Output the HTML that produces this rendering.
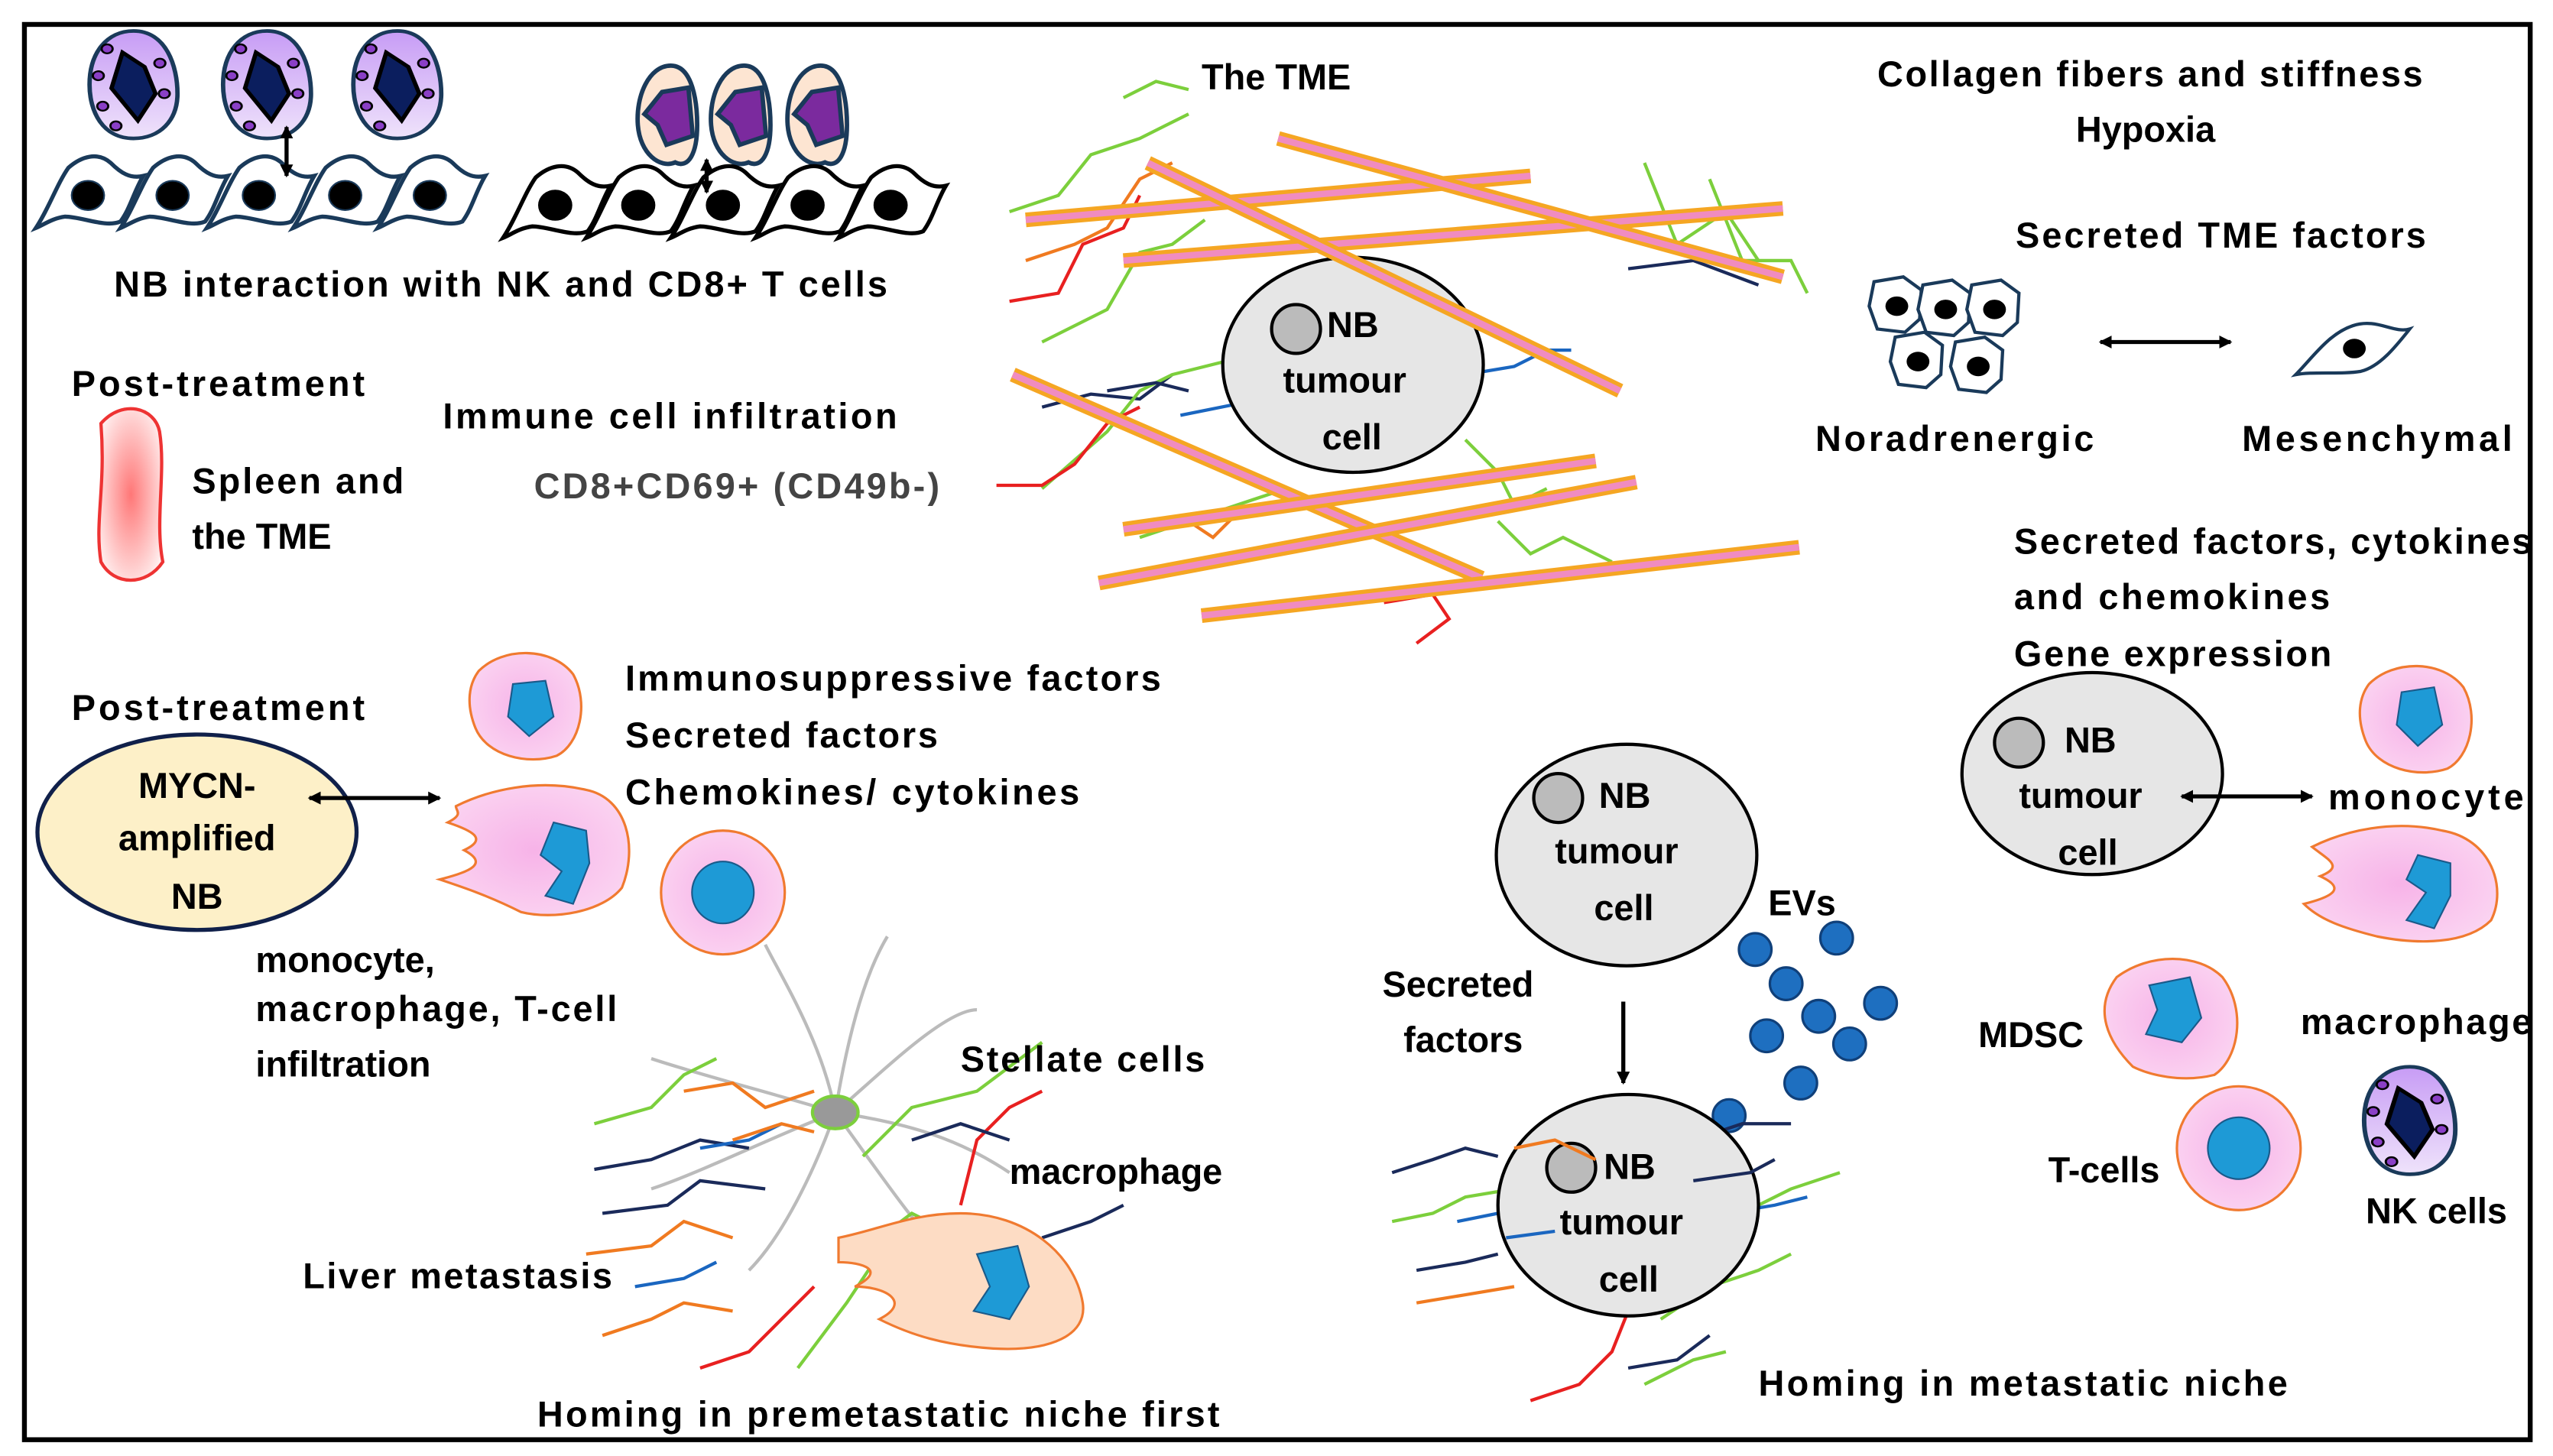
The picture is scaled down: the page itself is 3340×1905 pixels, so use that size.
<!DOCTYPE html>
<html><head><meta charset="utf-8"><style>
html,body{margin:0;padding:0;background:#fff;}
svg{display:block;}
text{font-family:"Liberation Sans",sans-serif;font-weight:bold;font-size:22px;fill:#000;}
.g{fill:#444;}
.fib1{stroke:#f5a623;stroke-width:9;stroke-linecap:butt;}
.fib2{stroke:#f08cc0;stroke-width:4;}
.sq{fill:none;stroke-width:2;}
</style></head><body>
<svg width="3340" height="1905" viewBox="0 0 1568 894" preserveAspectRatio="none" xmlns="http://www.w3.org/2000/svg">
<defs>
<linearGradient id="pg" x1="0" y1="0" x2="0" y2="1"><stop offset="0" stop-color="#c79cf5"/><stop offset="1" stop-color="#efe3fb"/></linearGradient>
<radialGradient id="sp" cx="0.5" cy="0.5" r="0.6"><stop offset="0" stop-color="#f77"/><stop offset="1" stop-color="#fff0f0"/></radialGradient>
<radialGradient id="pk" cx="0.5" cy="0.5" r="0.6"><stop offset="0" stop-color="#f7b3e8"/><stop offset="1" stop-color="#fbd6f2"/></radialGradient>
<marker id="ah" markerWidth="8" markerHeight="8" refX="7" refY="4" orient="auto-start-reverse" markerUnits="userSpaceOnUse"><path d="M0,0 L8,4 L0,8 z" fill="#000"/></marker>
<g id="spin"><path d="M-38,22 C-30,10 -25,-5 -18,-15 C-10,-22 0,-25 8,-18 C14,-12 20,-8 28,-10 C22,0 20,10 14,18 C5,22 -10,15 -20,15 C-28,16 -33,20 -38,22 Z" fill="#fff" stroke-width="2.5"/><ellipse cx="-6" cy="2" rx="10" ry="9" fill="#000"/></g>
<g id="nk"><path d="M0,-30 C15,-30 20,-10 20,5 C20,20 12,30 0,30 C-14,30 -20,15 -20,0 C-20,-18 -12,-30 0,-30Z" fill="url(#pg)" stroke="#1a3a5a" stroke-width="2"/><path d="M-5,-18 L5,-10 L10,5 L2,20 L-10,2 Z" fill="#0b1e5e" stroke="#000" stroke-width="2"/><circle cx="-12" cy="-20" r="2.5" fill="#8a3fc6" stroke="#000"/><circle cx="12" cy="-12" r="2.5" fill="#8a3fc6" stroke="#000"/><circle cx="-16" cy="-5" r="2.5" fill="#8a3fc6" stroke="#000"/><circle cx="14" cy="5" r="2.5" fill="#8a3fc6" stroke="#000"/><circle cx="-14" cy="12" r="2.5" fill="#8a3fc6" stroke="#000"/><circle cx="-8" cy="23" r="2.5" fill="#8a3fc6" stroke="#000"/></g>
<g id="tc"><path d="M0,-22 C10,-22 12,-5 12,5 C12,18 8,25 2,22 C-5,25 -14,18 -15,5 C-16,-8 -10,-22 0,-22Z" fill="#fde5d2" stroke="#1a3a5a" stroke-width="2"/><path d="M-4,-10 L8,-12 L10,10 L-2,14 L-6,5 L-12,0 Z" fill="#7b2a9e" stroke="#1a3a5a" stroke-width="2"/></g>
<g id="nor"><path d="M-14,-15 L4,-18 L15,-10 L14,8 L5,16 L-12,14 L-17,0 Z" fill="#fff" stroke="#1a3a5a" stroke-width="2"/><ellipse cx="0" cy="0" rx="7" ry="6" fill="#000"/></g>
<g id="pcell"><path d="M-30,-20 C-15,-35 15,-35 28,-18 C38,0 32,25 18,32 C0,38 -25,32 -32,15 C-38,0 -36,-12 -30,-20Z" fill="url(#pk)" stroke="#f07a30" stroke-width="1.5"/></g>
</defs>
<rect x="15" y="15" width="1539" height="869" fill="#fff" stroke="#000" stroke-width="3"/>

<!-- top-left cells -->
<g transform="translate(82,52) scale(1.35,1.1)"><use href="#nk"/></g>
<g transform="translate(164,52) scale(1.35,1.1)"><use href="#nk"/></g>
<g transform="translate(244,52) scale(1.35,1.1)"><use href="#nk"/></g>
<g stroke="#1a3a5a"><use href="#spin" x="60" y="118"/><use href="#spin" x="112" y="118"/><use href="#spin" x="165" y="118"/><use href="#spin" x="218" y="118"/><use href="#spin" x="270" y="118"/></g>
<line x1="176" y1="78" x2="176" y2="108" stroke="#000" stroke-width="2.5" marker-start="url(#ah)" marker-end="url(#ah)"/>
<g transform="translate(412,70) scale(1.35,1.35)"><use href="#tc"/></g>
<g transform="translate(457,70) scale(1.35,1.35)"><use href="#tc"/></g>
<g transform="translate(504,70) scale(1.35,1.35)"><use href="#tc"/></g>
<g stroke="#000"><use href="#spin" x="347" y="124"/><use href="#spin" x="398" y="124"/><use href="#spin" x="450" y="124"/><use href="#spin" x="502" y="124"/><use href="#spin" x="553" y="124"/></g>
<line x1="434" y1="98" x2="434" y2="118" stroke="#000" stroke-width="2.5" marker-start="url(#ah)" marker-end="url(#ah)"/>

<text x="70" y="182" textLength="475">NB interaction with NK and CD8+ T cells</text>
<text x="738" y="55">The TME</text>
<text x="1153" y="53" textLength="335">Collagen fibers and stiffness</text>
<text x="1275" y="87">Hypoxia</text>
<text x="1238" y="152" textLength="252">Secreted TME factors</text>
<text x="1115" y="277" textLength="171">Noradrenergic</text>
<text x="1377" y="277" textLength="166">Mesenchymal</text>
<text x="44" y="243" textLength="180">Post-treatment</text>
<text x="272" y="263" textLength="279">Immune cell infiltration</text>
<text x="328" y="306" class="g" textLength="249">CD8+CD69+ (CD49b-)</text>
<path d="M62,260 C75,245 95,250 98,265 C102,290 95,320 100,345 C90,360 70,360 62,345 C58,320 65,300 62,260Z" fill="url(#sp)" stroke="#e33" stroke-width="2"/>
<text x="118" y="303" textLength="130">Spleen and</text>
<text x="118" y="337">the TME</text>

<!-- TME region squiggles -->
<g class="sq">
<polyline stroke="#7ccf3c" points="620,130 650,120 670,95 700,85 730,70"/>
<polyline stroke="#e82020" points="620,185 650,180 665,150 690,140 700,120"/>
<polyline stroke="#f07a20" points="630,160 660,150 680,140 700,110 720,100"/>
<polyline stroke="#7ccf3c" points="640,210 680,190 700,155 720,150 740,135"/>
<polyline stroke="#1a2a5a" points="640,250 670,242 700,245 720,230"/>
<polyline stroke="#7ccf3c" points="640,300 680,265 700,240 720,230 760,220"/>
<polyline stroke="#e82020" points="612,298 640,298 660,285 680,260 700,250"/>
<polyline stroke="#1a2a5a" points="680,240 710,235 730,240"/>
<polyline stroke="#1a66c0" points="725,255 760,248"/>
<polyline stroke="#7ccf3c" points="1050,110 1070,160 1100,160 1110,180"/>
<polyline stroke="#7ccf3c" points="1010,100 1030,150 1060,130 1080,160"/>
<polyline stroke="#1a2a5a" points="1000,165 1040,160 1080,175"/>
<polyline stroke="#1a66c0" points="900,230 930,225 950,215 965,215"/>
<polyline stroke="#7ccf3c" points="900,270 920,290 930,310 950,300"/>
<polyline stroke="#7ccf3c" points="920,320 940,340 960,330 990,345"/>
<polyline stroke="#e82020" points="850,370 880,365 890,380 870,395"/>
<polyline stroke="#7ccf3c" points="700,330 730,320 760,310 790,300"/>
<polyline stroke="#f07a20" points="730,320 745,330 760,315"/>
<polyline stroke="#7ccf3c" points="690,60 710,50 730,55"/>
<polyline stroke="#f07a20" points="770,200 790,190 800,210"/>
</g>
<ellipse cx="831" cy="224" rx="80" ry="66" fill="#e6e6e6" stroke="#000" stroke-width="2"/>
<circle cx="796" cy="202" r="15" fill="#bbb" stroke="#000" stroke-width="2"/>
<text x="815" y="207">NB</text><text x="788" y="241">tumour</text><text x="812" y="276">cell</text>
<g>
<line class="fib1" x1="630" y1="135" x2="940" y2="108"/><line class="fib2" x1="630" y1="135" x2="940" y2="108"/>
<line class="fib1" x1="690" y1="160" x2="1095" y2="128"/><line class="fib2" x1="690" y1="160" x2="1095" y2="128"/>
<line class="fib1" x1="785" y1="85" x2="1095" y2="170"/><line class="fib2" x1="785" y1="85" x2="1095" y2="170"/>
<line class="fib1" x1="705" y1="100" x2="995" y2="240"/><line class="fib2" x1="705" y1="100" x2="995" y2="240"/>
<line class="fib1" x1="622" y1="230" x2="910" y2="355"/><line class="fib2" x1="622" y1="230" x2="910" y2="355"/>
<line class="fib1" x1="690" y1="325" x2="980" y2="283"/><line class="fib2" x1="690" y1="325" x2="980" y2="283"/>
<line class="fib1" x1="675" y1="358" x2="1005" y2="296"/><line class="fib2" x1="675" y1="358" x2="1005" y2="296"/>
<line class="fib1" x1="738" y1="378" x2="1105" y2="336"/><line class="fib2" x1="738" y1="378" x2="1105" y2="336"/>
</g>

<!-- noradrenergic / mesenchymal -->
<use href="#nor" x="1165" y="188"/><use href="#nor" x="1195" y="190"/><use href="#nor" x="1225" y="190"/><use href="#nor" x="1178" y="222"/><use href="#nor" x="1215" y="225"/>
<line x1="1290" y1="210" x2="1370" y2="210" stroke="#000" stroke-width="2.5" marker-start="url(#ah)" marker-end="url(#ah)"/>
<path d="M1410,230 C1420,220 1430,205 1445,200 C1460,195 1470,205 1480,202 C1472,212 1462,225 1450,228 C1438,230 1420,228 1410,230Z" fill="#fff" stroke="#1a3a5a" stroke-width="2"/><ellipse cx="1446" cy="214" rx="7" ry="6" fill="#000"/>

<text x="1237" y="340" textLength="318">Secreted factors, cytokines</text>
<text x="1237" y="374" textLength="194">and chemokines</text>
<text x="1237" y="409" textLength="195">Gene expression</text>

<!-- left middle -->
<text x="44" y="442" textLength="180">Post-treatment</text>
<ellipse cx="121" cy="511" rx="98" ry="60" fill="#fdf0c8" stroke="#10204a" stroke-width="2.5"/>
<text x="121" y="490" text-anchor="middle">MYCN-</text><text x="121" y="522" text-anchor="middle">amplified</text><text x="121" y="558" text-anchor="middle">NB</text>
<line x1="190" y1="490" x2="270" y2="490" stroke="#000" stroke-width="2.5" marker-start="url(#ah)" marker-end="url(#ah)"/>
<use href="#pcell" x="324" y="432"/><path d="M315,420 L335,418 L340,440 L325,452 L312,440Z" fill="#1e9ad6" stroke="#1a5a8a"/>
<path d="M280,495 C300,485 330,478 360,485 C385,490 392,520 382,545 C370,560 340,565 320,560 C300,550 285,545 270,540 C290,535 300,530 285,522 C300,515 290,510 275,505 C285,500 280,498 280,495Z" fill="url(#pk)" stroke="#f07a30" stroke-width="1.5"/>
<path d="M340,505 L360,510 L362,530 L352,555 L335,550 L345,535 L332,525Z" fill="#1e9ad6" stroke="#1a5a8a"/>
<circle cx="444" cy="548" r="38" fill="url(#pk)" stroke="#f07a30" stroke-width="1.5"/><circle cx="444" cy="548" r="19" fill="#1e9ad6" stroke="#1a5a8a"/>
<text x="384" y="424" textLength="329">Immunosuppressive factors</text>
<text x="384" y="459" textLength="192">Secreted factors</text>
<text x="384" y="494" textLength="279">Chemokines/ cytokines</text>
<text x="157" y="597">monocyte,</text>
<text x="157" y="627" textLength="222">macrophage, T-cell</text>
<text x="157" y="661">infiltration</text>

<!-- liver metastasis -->
<g class="sq" stroke="#bbb">
<path d="M513,683 C505,640 480,600 470,580 M513,683 C520,640 530,600 545,575 M513,683 C540,660 580,620 600,620 M513,683 C470,670 430,660 400,650 M513,683 C500,720 480,760 460,780 M513,683 C540,720 560,750 580,770 M513,683 C470,700 430,720 400,730 M513,683 C560,690 590,700 620,720"/>
</g>
<g class="sq">
<polyline stroke="#7ccf3c" points="365,690 400,680 420,660 440,650"/>
<polyline stroke="#f07a20" points="420,670 450,665 470,680 500,670"/>
<polyline stroke="#1a2a5a" points="365,718 400,712 430,700 460,705"/>
<polyline stroke="#1a66c0" points="430,705 460,700 480,690"/>
<polyline stroke="#1a2a5a" points="370,745 410,740 430,725 470,730"/>
<polyline stroke="#f07a20" points="360,770 400,765 420,750 450,760"/>
<polyline stroke="#1a66c0" points="390,790 420,785 440,775"/>
<polyline stroke="#f07a20" points="370,820 400,810 420,800 450,805"/>
<polyline stroke="#e82020" points="430,840 460,830 480,810 500,790"/>
<polyline stroke="#7ccf3c" points="530,710 560,680 600,670 640,640"/>
<polyline stroke="#e82020" points="590,740 600,700 620,680 640,670"/>
<polyline stroke="#1a2a5a" points="560,700 590,690 620,700"/>
<polyline stroke="#7ccf3c" points="490,840 520,800 540,770 560,760"/>
<polyline stroke="#1a2a5a" points="640,760 670,750 690,740"/>
<polyline stroke="#7ccf3c" points="540,760 560,745 580,755"/>
<polyline stroke="#f07a20" points="450,700 480,690 500,695"/>
</g>
<ellipse cx="513" cy="683" rx="14" ry="10" fill="#999" stroke="#7ccf3c" stroke-width="2"/>
<path d="M515,760 C540,755 560,745 590,745 C630,745 660,770 665,800 C668,820 645,830 610,828 C580,826 560,820 540,810 C560,800 545,790 525,790 C545,780 530,775 515,775Z" fill="#fddcc4" stroke="#f07a30" stroke-width="1.5"/>
<path d="M600,770 L625,765 L632,790 L620,810 L598,805 L608,790Z" fill="#1e9ad6" stroke="#1a5a8a"/>
<text x="590" y="658" textLength="150">Stellate cells</text>
<text x="620" y="727">macrophage</text>
<text x="186" y="791" textLength="190">Liver metastasis</text>
<text x="330" y="876" textLength="419">Homing in premetastatic niche first</text>

<!-- middle-right NB -->
<ellipse cx="999" cy="525" rx="80" ry="68" fill="#e6e6e6" stroke="#000" stroke-width="2"/>
<circle cx="957" cy="490" r="15" fill="#bbb" stroke="#000" stroke-width="2"/>
<text x="982" y="496">NB</text><text x="955" y="530">tumour</text><text x="979" y="565">cell</text>
<text x="1086" y="562">EVs</text>
<g fill="#1e6fc0" stroke="#10407a" stroke-width="1.5">
<circle cx="1078" cy="583" r="10"/><circle cx="1128" cy="576" r="10"/><circle cx="1097" cy="604" r="10"/><circle cx="1155" cy="616" r="10"/><circle cx="1085" cy="636" r="10"/><circle cx="1117" cy="624" r="10"/><circle cx="1136" cy="641" r="10"/><circle cx="1106" cy="665" r="10"/><circle cx="1062" cy="685" r="10"/>
</g>
<text x="849" y="612">Secreted</text><text x="862" y="646">factors</text>
<line x1="997" y1="615" x2="997" y2="665" stroke="#000" stroke-width="2.5" marker-end="url(#ah)"/>
<g class="sq">
<polyline stroke="#1a2a5a" points="855,720 880,712 900,705 920,710"/>
<polyline stroke="#7ccf3c" points="855,750 880,745 900,735 930,730"/>
<polyline stroke="#1a2a5a" points="870,780 900,775 920,770"/>
<polyline stroke="#f07a20" points="870,800 900,795 930,790"/>
<polyline stroke="#1a66c0" points="895,750 920,745"/>
<polyline stroke="#7ccf3c" points="1050,780 1080,740 1100,730 1130,720"/>
<polyline stroke="#7ccf3c" points="1020,810 1050,790 1080,780 1100,770"/>
<polyline stroke="#1a2a5a" points="1040,700 1070,690 1100,690"/>
<polyline stroke="#1a66c0" points="1060,745 1090,740 1110,735"/>
<polyline stroke="#e82020" points="940,860 970,850 990,830 1000,805"/>
<polyline stroke="#1a2a5a" points="1000,840 1030,835 1050,820"/>
<polyline stroke="#7ccf3c" points="1010,850 1040,835 1060,830"/>
</g>
<ellipse cx="1000" cy="740" rx="80" ry="68" fill="#e6e6e6" stroke="#000" stroke-width="2"/>
<circle cx="965" cy="717" r="15" fill="#bbb" stroke="#000" stroke-width="2"/>
<polyline class="sq" stroke="#f07a20" points="930,705 955,700 980,712"/>
<polyline class="sq" stroke="#1a2a5a" points="1040,725 1075,720 1090,712"/>
<polyline class="sq" stroke="#1a66c0" points="925,760 955,756"/>
<text x="985" y="724">NB</text><text x="958" y="758">tumour</text><text x="982" y="793">cell</text>
<text x="1080" y="857" textLength="325">Homing in metastatic niche</text>

<!-- right NB -->
<ellipse cx="1285" cy="475" rx="80" ry="62" fill="#e6e6e6" stroke="#000" stroke-width="2"/>
<circle cx="1240" cy="456" r="15" fill="#bbb" stroke="#000" stroke-width="2"/>
<text x="1268" y="462">NB</text><text x="1240" y="496">tumour</text><text x="1264" y="531">cell</text>
<line x1="1340" y1="489" x2="1420" y2="489" stroke="#000" stroke-width="2.5" marker-start="url(#ah)" marker-end="url(#ah)"/>
<text x="1430" y="497" textLength="120">monocyte</text>
<use href="#pcell" x="1485" y="440"/><path d="M1475,425 L1495,422 L1500,445 L1485,458 L1472,445Z" fill="#1e9ad6" stroke="#1a5a8a"/>
<path d="M1420,520 C1440,510 1470,503 1500,510 C1530,515 1540,545 1530,565 C1515,580 1485,580 1460,575 C1440,570 1425,565 1415,555 C1435,550 1440,545 1425,538 C1440,532 1430,528 1420,520Z" fill="url(#pk)" stroke="#f07a30" stroke-width="1.5"/>
<path d="M1485,525 L1505,530 L1505,550 L1495,570 L1478,565 L1490,548 L1478,540Z" fill="#1e9ad6" stroke="#1a5a8a"/>
<text x="1215" y="643">MDSC</text>
<path d="M1300,600 C1320,585 1350,585 1365,600 C1380,620 1375,650 1360,660 C1340,665 1320,660 1310,655 C1295,640 1285,620 1300,600Z" fill="url(#pk)" stroke="#f07a30" stroke-width="1.5"/>
<path d="M1320,605 L1345,600 L1352,625 L1340,640 L1318,635 L1325,620Z" fill="#1e9ad6" stroke="#1a5a8a"/>
<text x="1413" y="635" textLength="142">macrophage</text>
<circle cx="1375" cy="705" r="38" fill="url(#pk)" stroke="#f07a30" stroke-width="1.5"/><circle cx="1375" cy="705" r="19" fill="#1e9ad6" stroke="#1a5a8a"/>
<text x="1258" y="726">T-cells</text>
<g transform="translate(1480,688) scale(1.4,1.1)"><use href="#nk"/></g>
<text x="1453" y="751">NK cells</text>
</svg>
</body></html>
